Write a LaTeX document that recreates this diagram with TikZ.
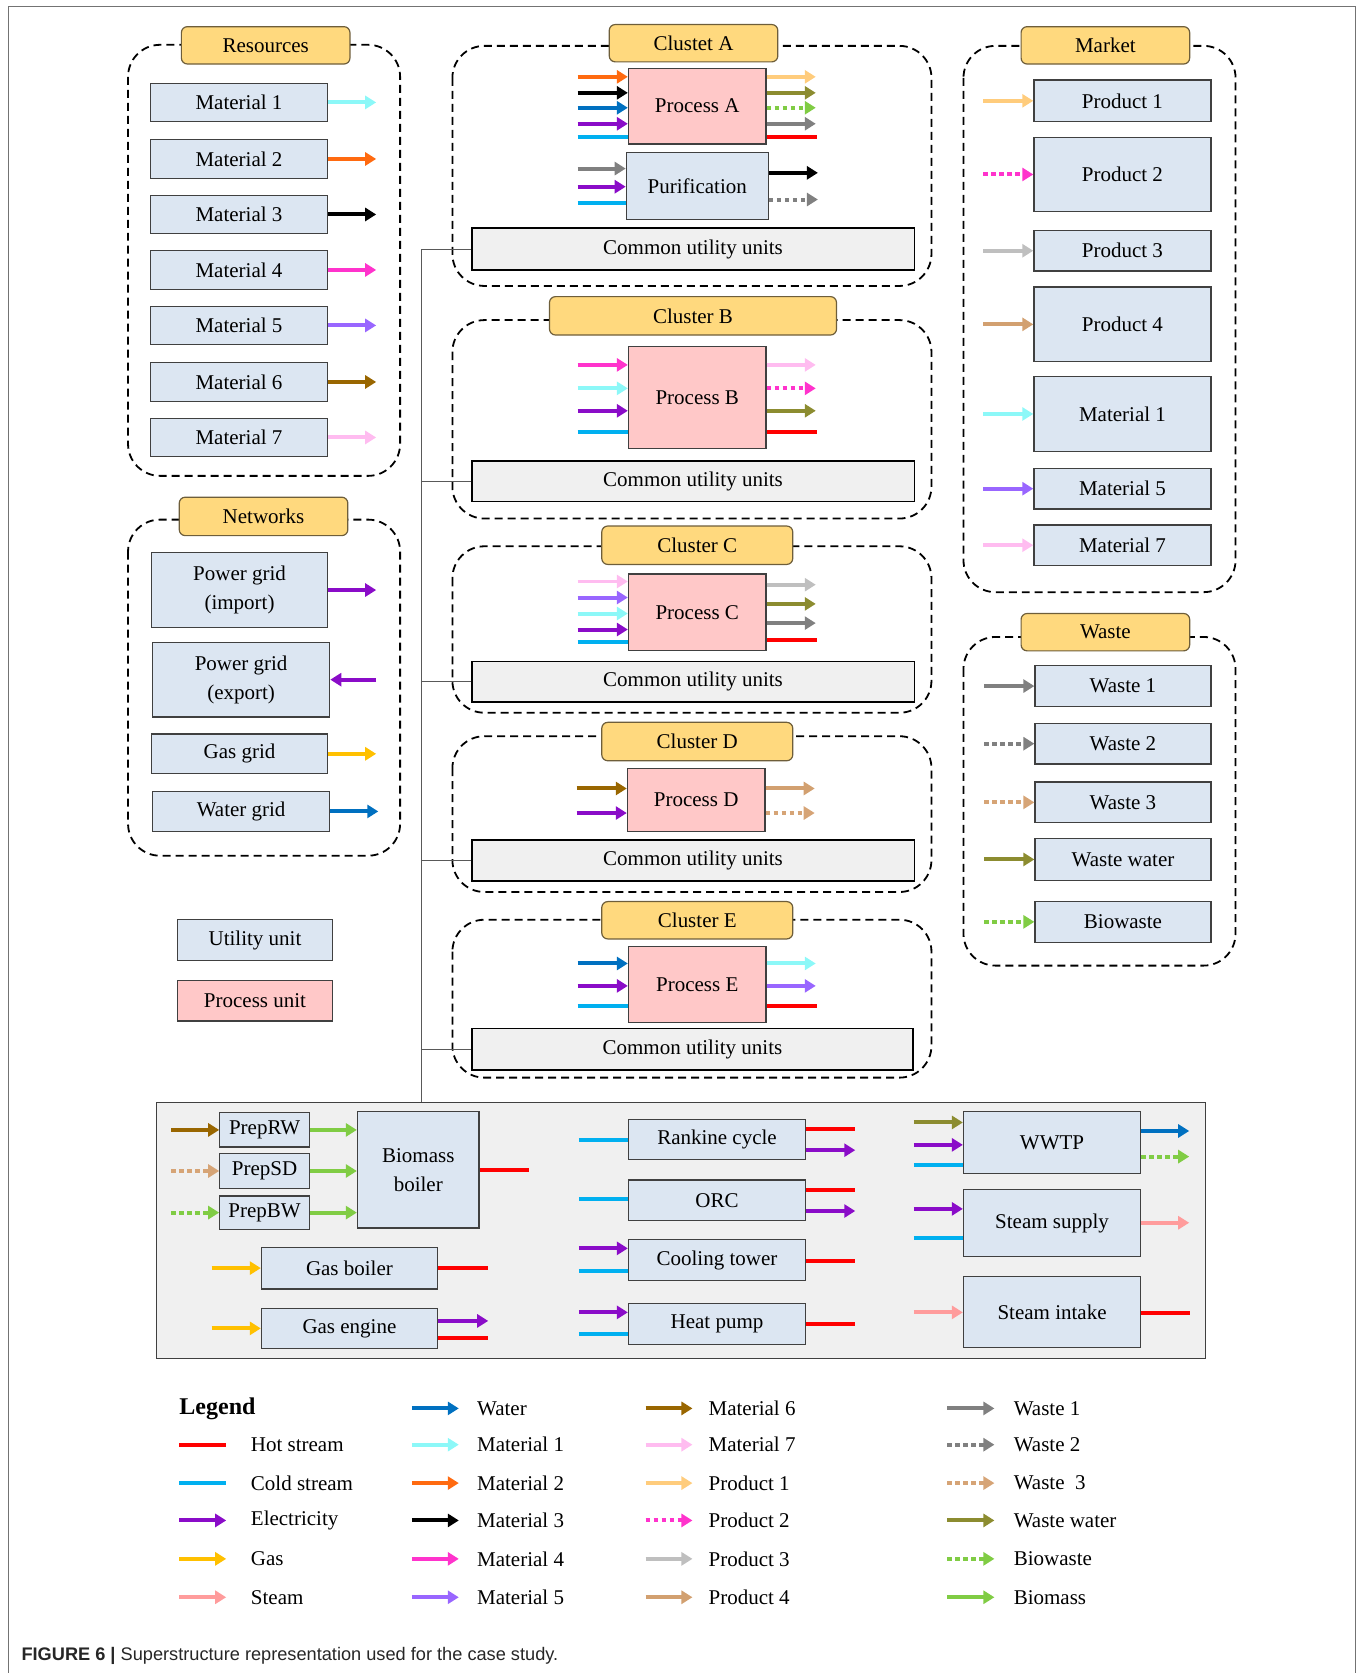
\documentclass[tikz,border=0pt]{standalone}
\usepackage{fontspec}
\setmainfont{Liberation Serif}
\setsansfont{Liberation Sans}
\usetikzlibrary{arrows.meta,calc}
\definecolor{cHot}{HTML}{FF0000}
\definecolor{cCold}{HTML}{00B0F0}
\definecolor{cElec}{HTML}{8A0CC8}
\definecolor{cGas}{HTML}{FFC000}
\definecolor{cSteam}{HTML}{FF9C9C}
\definecolor{cWater}{HTML}{0070C0}
\definecolor{cMa}{HTML}{8CF8F8}
\definecolor{cMb}{HTML}{FF6A10}
\definecolor{cMc}{HTML}{000000}
\definecolor{cMd}{HTML}{FF33CC}
\definecolor{cMe}{HTML}{9966FF}
\definecolor{cMf}{HTML}{996600}
\definecolor{cMg}{HTML}{FFBCF0}
\definecolor{cPa}{HTML}{FFCC7C}
\definecolor{cPb}{HTML}{FF33CC}
\definecolor{cPc}{HTML}{BFBFBF}
\definecolor{cPd}{HTML}{D2A070}
\definecolor{cWa}{HTML}{808080}
\definecolor{cWb}{HTML}{808080}
\definecolor{cWc}{HTML}{D6A476}
\definecolor{cWW}{HTML}{8C8C30}
\definecolor{cBW}{HTML}{80CC44}
\definecolor{cBM}{HTML}{80CC44}
\definecolor{cUnit}{HTML}{DCE6F2}
\definecolor{cProc}{HTML}{FFC8C8}
\definecolor{cTtl}{HTML}{FFD97E}
\definecolor{cTtlB}{HTML}{6E5E3A}
\definecolor{cGrey}{HTML}{F0F0F0}
\definecolor{cEdge}{HTML}{404040}
\newcommand\fs{\fontsize{21}{29}\selectfont}
\newcommand\bx[7]{\node[#1,minimum width={(#4-#2)*1.0673pt},minimum height={(#5-#3)*1.0673pt}] (#6) at ({(#2+#4)/2},{(#3+#5)/2}) {#7};}
\newcommand\fin[4]{\draw[#1] ($(#2.west|-0,#3)+(-#4,0)$) -- (#2.west|-0,#3);}
\newcommand\fout[4]{\draw[#1] (#2.east|-0,#3) -- ++(#4,0);}
\newcommand\lgi[6]{\node[anchor=west,font=\fs,inner sep=0pt] (#5) at (#3,#4) {#6};
  \draw[#1] (#2,#4) -- ++(44,0);}
\begin{document}
\begin{tikzpicture}[x=1.0673pt,y=-1.0673pt,
  fl/.style={line width=4pt,-{Triangle[length=11pt,width=13pt]}},
  ln/.style={line width=4pt},
  dt/.style={dash pattern=on 4.5pt off 3.5pt},
  grp/.style={draw=black,line width=1.8pt,dash pattern=on 8pt off 5pt,rounded corners=32pt},
  ttl/.style={draw=cTtlB,fill=cTtl,line width=1.2pt,rounded corners=6pt,inner sep=0pt,font=\fs},
  ubox/.style={draw=cEdge,fill=cUnit,line width=1.2pt,inner sep=0pt,font=\fs,align=center},
  pbox/.style={draw=cEdge,fill=cProc,line width=1.2pt,inner sep=0pt,font=\fs,align=center},
  cbox/.style={draw=black,fill=cGrey,line width=1.8pt,inner sep=0pt,font=\fs},
  panelst/.style={draw=cEdge,fill=cGrey,line width=1.2pt,inner sep=0pt},
  bus/.style={draw=black!65,line width=1pt}]
\useasboundingbox (0,0) rectangle (1277,1568);
\draw[black!55,line width=1pt] (8,1600) -- (8,6) -- (1270,6) -- (1270,1600);

% ---------------- Resources
\draw[grp] (120,42) rectangle (375,446);
\bx{ttl}{170}{25}{328}{60}{tRes}{Resources}
\bx{ubox}{141}{78}{307}{114}{r1}{Material 1}
\bx{ubox}{141}{131}{307}{167}{r2}{Material 2}
\bx{ubox}{141}{183}{307}{219}{r3}{Material 3}
\bx{ubox}{141}{235}{307}{271}{r4}{Material 4}
\bx{ubox}{141}{287}{307}{323}{r5}{Material 5}
\bx{ubox}{141}{340}{307}{376}{r6}{Material 6}
\bx{ubox}{141}{392}{307}{428}{r7}{Material 7}
\draw[fl,cMa] (r1.east) -- ++(45,0);
\draw[fl,cMb] (r2.east) -- ++(45,0);
\draw[fl,cMc] (r3.east) -- ++(45,0);
\draw[fl,cMd] (r4.east) -- ++(45,0);
\draw[fl,cMe] (r5.east) -- ++(45,0);
\draw[fl,cMf] (r6.east) -- ++(45,0);
\draw[fl,cMg] (r7.east) -- ++(45,0);

% ---------------- Networks
\draw[grp] (120,487) rectangle (375,802);
\bx{ttl}{168}{466}{326}{502}{tNet}{Networks}
\bx{ubox}{142}{518}{307}{588}{n1}{Power grid\\(import)}
\bx{ubox}{143}{602}{309}{672}{n2}{Power grid\\(export)}
\bx{ubox}{142}{688}{307}{725}{n3}{Gas grid}
\bx{ubox}{143}{742}{309}{779}{n4}{Water grid}
\draw[fl,cElec] (n1.east) -- ++(45,0);
\draw[fl,cElec] ($(n2.east)+(43,0)$) -- (n2.east);
\draw[fl,cGas] (n3.east) -- ++(45,0);
\draw[fl,cWater] (n4.east) -- ++(45,0);

% ---------------- key boxes
\bx{ubox}{166}{862}{312}{900}{kU}{Utility unit}
\bx{pbox}{166}{919}{312}{957}{kP}{Process unit}

% ---------------- Cluster A
\draw[grp] (424,43) rectangle (873,268);
\bx{ttl}{571}{23}{729}{58}{tA}{Clustet A}
\bx{pbox}{589}{64}{718}{135}{pA}{Process A}
\fin{fl,cMb}{pA}{72}{47}
\fin{fl,cMc}{pA}{87}{47}
\fin{fl,cWater}{pA}{101}{47}
\fin{fl,cElec}{pA}{116}{47}
\fin{ln,cCold}{pA}{128}{47}
\fout{fl,cPa}{pA}{72}{46}
\fout{fl,cWW}{pA}{87}{46}
\fout{fl,dt,cBW}{pA}{101}{46}
\fout{fl,cWa}{pA}{116}{46}
\fout{ln,cHot}{pA}{128}{47}
\bx{ubox}{587}{143}{720}{206}{pur}{Purification}
\fin{fl,cWa}{pur}{158}{45}
\fin{fl,cElec}{pur}{175}{45}
\fin{ln,cCold}{pur}{190}{45}
\fout{fl,cMc}{pur}{162}{46}
\fout{fl,dt,cWb}{pur}{187}{46}
\bx{cbox}{442}{214}{857}{253}{cuA}{Common utility units}

% ---------------- Cluster B
\draw[grp] (424,300) rectangle (873,486);
\bx{ttl}{515}{278}{784}{314}{tB}{Cluster B}
\bx{pbox}{589}{325}{718}{420}{pB}{Process B}
\fin{fl,cMd}{pB}{342}{47}
\fin{fl,cMa}{pB}{364}{47}
\fin{fl,cElec}{pB}{385}{47}
\fin{ln,cCold}{pB}{405}{47}
\fout{fl,cMg}{pB}{342}{46}
\fout{fl,dt,cPb}{pB}{364}{46}
\fout{fl,cWW}{pB}{385}{46}
\fout{ln,cHot}{pB}{405}{47}
\bx{cbox}{442}{432}{857}{470}{cuB}{Common utility units}

% ---------------- Cluster C
\draw[grp] (424,512) rectangle (873,668);
\bx{ttl}{564}{493}{743}{529}{tC}{Cluster C}
\bx{pbox}{589}{538}{718}{610}{pC}{Process C}
\fin{fl,cMg}{pC}{545}{47}
\fin{fl,cMe}{pC}{560}{47}
\fin{fl,cMa}{pC}{575}{47}
\fin{fl,cElec}{pC}{590}{47}
\fin{ln,cCold}{pC}{602}{47}
\fout{fl,cPc}{pC}{548}{46}
\fout{fl,cWW}{pC}{566}{46}
\fout{fl,cWa}{pC}{584}{46}
\fout{ln,cHot}{pC}{600}{47}
\bx{cbox}{442}{620}{857}{658}{cuC}{Common utility units}

% ---------------- Cluster D
\draw[grp] (424,690) rectangle (873,836);
\bx{ttl}{564}{677}{743}{713}{tD}{Cluster D}
\bx{pbox}{588}{720}{717}{779}{pD}{Process D}
\fin{fl,cMf}{pD}{739}{47}
\fin{fl,cElec}{pD}{762}{47}
\fout{fl,cPd}{pD}{739}{46}
\fout{fl,dt,cWc}{pD}{762}{46}
\bx{cbox}{442}{787}{857}{826}{cuD}{Common utility units}

% ---------------- Cluster E
\draw[grp] (424,862) rectangle (873,1010);
\bx{ttl}{564}{845}{743}{880}{tE}{Cluster E}
\bx{pbox}{589}{887}{718}{958}{pE}{Process E}
\fin{fl,cWater}{pE}{903}{47}
\fin{fl,cElec}{pE}{924}{47}
\fin{ln,cCold}{pE}{943}{47}
\fout{fl,cMa}{pE}{903}{46}
\fout{fl,cMe}{pE}{924}{46}
\fout{ln,cHot}{pE}{943}{47}
\bx{cbox}{442}{964}{856}{1003}{cuE}{Common utility units}

% ---------------- Market
\draw[grp] (903,43) rectangle (1158,555);
\bx{ttl}{957}{25}{1115}{60}{tMk}{Market}
\bx{ubox}{969}{75}{1135}{114}{k1}{Product 1}
\bx{ubox}{969}{129}{1135}{198}{k2}{Product 2}
\bx{ubox}{969}{216}{1135}{254}{k3}{Product 3}
\bx{ubox}{969}{269}{1135}{339}{k4}{Product 4}
\bx{ubox}{969}{353}{1135}{423}{k5}{Material 1}
\bx{ubox}{969}{439}{1135}{477}{k6}{Material 5}
\bx{ubox}{969}{492}{1135}{530}{k7}{Material 7}
\draw[fl,cPa] ($(k1.west)+(-47,0)$) -- (k1.west);
\draw[fl,dt,cPb] ($(k2.west)+(-47,0)$) -- (k2.west);
\draw[fl,cPc] ($(k3.west)+(-47,0)$) -- (k3.west);
\draw[fl,cPd] ($(k4.west)+(-47,0)$) -- (k4.west);
\draw[fl,cMa] ($(k5.west)+(-47,0)$) -- (k5.west);
\draw[fl,cMe] ($(k6.west)+(-47,0)$) -- (k6.west);
\draw[fl,cMg] ($(k7.west)+(-47,0)$) -- (k7.west);

% ---------------- Waste
\draw[grp] (903,597) rectangle (1158,905);
\bx{ttl}{957}{575}{1115}{610}{tWs}{Waste}
\bx{ubox}{970}{624}{1135}{662}{w1}{Waste 1}
\bx{ubox}{970}{678}{1135}{716}{w2}{Waste 2}
\bx{ubox}{970}{733}{1135}{771}{w3}{Waste 3}
\bx{ubox}{970}{786}{1135}{825}{w4}{Waste water}
\bx{ubox}{970}{845}{1135}{883}{w5}{Biowaste}
\draw[fl,cWa] ($(w1.west)+(-47,0)$) -- (w1.west);
\draw[fl,dt,cWb] ($(w2.west)+(-47,0)$) -- (w2.west);
\draw[fl,dt,cWc] ($(w3.west)+(-47,0)$) -- (w3.west);
\draw[fl,cWW] ($(w4.west)+(-47,0)$) -- (w4.west);
\draw[fl,dt,cBW] ($(w5.west)+(-47,0)$) -- (w5.west);

% ---------------- Utility panel
\bx{panelst}{147}{1033}{1130}{1273}{panel}{}
\draw[bus] (cuA.west) -- ++(-46,0) coordinate (b0) -- (b0 |- panel.north);
\draw[bus] (cuB.west) -- (cuB.west -| b0);
\draw[bus] (cuC.west) -- (cuC.west -| b0);
\draw[bus] (cuD.west) -- (cuD.west -| b0);
\draw[bus] (cuE.west) -- (cuE.west -| b0);

\bx{ubox}{206}{1043}{290}{1075}{prw}{PrepRW}
\bx{ubox}{206}{1081}{290}{1114}{psd}{PrepSD}
\bx{ubox}{206}{1121}{290}{1152}{pbw}{PrepBW}
\bx{ubox}{335}{1042}{449}{1151}{bb}{Biomass\\boiler}
\draw[fl,cMf] ($(prw.west)+(-45,0)$) -- (prw.west);
\draw[fl,dt,cWc] ($(psd.west)+(-45,0)$) -- (psd.west);
\draw[fl,dt,cBW] ($(pbw.west)+(-45,0)$) -- (pbw.west);
\draw[fl,cBM] (prw.east) -- (prw.east -| bb.west);
\draw[fl,cBM] (psd.east) -- (psd.east -| bb.west);
\draw[fl,cBM] (pbw.east) -- (pbw.east -| bb.west);
\draw[ln,cHot] (bb.east) -- ++(46,0);
\bx{ubox}{245}{1169}{410}{1208}{gb}{Gas boiler}
\bx{ubox}{245}{1226}{410}{1264}{ge}{Gas engine}
\draw[fl,cGas] ($(gb.west)+(-46,0)$) -- (gb.west);
\draw[fl,cGas] ($(ge.west)+(-46,0)$) -- (ge.west);
\draw[ln,cHot] (gb.east) -- ++(47,0);
\fout{fl,cElec}{ge}{1238}{47}
\fout{ln,cHot}{ge}{1254}{47}

\bx{ubox}{589}{1049}{755}{1087}{rk}{Rankine cycle}
\bx{ubox}{589}{1106}{755}{1144}{orc}{ORC}
\bx{ubox}{589}{1162}{755}{1200}{ct}{Cooling tower}
\bx{ubox}{589}{1222}{755}{1260}{hp}{Heat pump}
\fin{ln,cCold}{rk}{1068}{46}
\fout{ln,cHot}{rk}{1058}{46}
\fout{fl,cElec}{rk}{1078}{46}
\fin{ln,cCold}{orc}{1124}{46}
\fout{ln,cHot}{orc}{1115}{46}
\fout{fl,cElec}{orc}{1135}{46}
\fin{fl,cElec}{ct}{1170}{46}
\fin{ln,cCold}{ct}{1191}{46}
\fout{ln,cHot}{ct}{1182}{46}
\fin{fl,cElec}{hp}{1230}{46}
\fin{ln,cCold}{hp}{1250}{46}
\fout{ln,cHot}{hp}{1241}{46}

\bx{ubox}{903}{1042}{1069}{1100}{wt}{WWTP}
\bx{ubox}{903}{1115}{1069}{1178}{ss}{Steam supply}
\bx{ubox}{903}{1196}{1069}{1263}{si}{Steam intake}
\fin{fl,cWW}{wt}{1052}{46}
\fin{fl,cElec}{wt}{1073}{46}
\fin{ln,cCold}{wt}{1092}{46}
\fout{fl,cWater}{wt}{1060}{45}
\fout{fl,dt,cBW}{wt}{1084}{45}
\fin{fl,cElec}{ss}{1133}{46}
\fin{ln,cCold}{ss}{1160}{46}
\fout{fl,cSteam}{ss}{1146}{45}
\fin{fl,cSteam}{si}{1230}{46}
\fout{ln,cHot}{si}{1231}{46}

% ---------------- Legend
\node[anchor=west,inner sep=0pt,font=\bfseries\fontsize{24}{28}\selectfont] (lgT) at (168,1320) {Legend};
\lgi{ln,cHot}{168}{235}{1354}{lA}{Hot stream}
\lgi{ln,cCold}{168}{235}{1390}{lB}{Cold stream}
\lgi{fl,cElec}{168}{235}{1425}{lC}{Electricity}
\lgi{fl,cGas}{168}{235}{1461}{lD}{Gas}
\lgi{fl,cSteam}{168}{235}{1497}{lE}{Steam}
\lgi{fl,cWater}{386}{447}{1320}{lF}{Water}
\lgi{fl,cMa}{386}{447}{1354}{lG}{Material 1}
\lgi{fl,cMb}{386}{447}{1390}{lH}{Material 2}
\lgi{fl,cMc}{386}{447}{1425}{lI}{Material 3}
\lgi{fl,cMd}{386}{447}{1461}{lJ}{Material 4}
\lgi{fl,cMe}{386}{447}{1497}{lK}{Material 5}
\lgi{fl,cMf}{605}{664}{1320}{lL}{Material 6}
\lgi{fl,cMg}{605}{664}{1354}{lM}{Material 7}
\lgi{fl,cPa}{605}{664}{1390}{lN}{Product 1}
\lgi{fl,dt,cPb}{605}{664}{1425}{lO}{Product 2}
\lgi{fl,cPc}{605}{664}{1461}{lP}{Product 3}
\lgi{fl,cPd}{605}{664}{1497}{lQ}{Product 4}
\lgi{fl,cWa}{888}{950}{1320}{lR}{Waste 1}
\lgi{fl,dt,cWb}{888}{950}{1354}{lS}{Waste 2}
\lgi{fl,dt,cWc}{888}{950}{1390}{lT}{Waste~~3}
\lgi{fl,cWW}{888}{950}{1425}{lU}{Waste water}
\lgi{fl,dt,cBW}{888}{950}{1461}{lV}{Biowaste}
\lgi{fl,cBM}{888}{950}{1497}{lW}{Biomass}

% ---------------- Caption
\node[anchor=base west,inner sep=0pt,font=\sffamily\fontsize{18.2}{21}\selectfont,text=black!85] (cap) at (20,1556) {\textbf{FIGURE 6 |} Superstructure representation used for the case study.};
\end{tikzpicture}
\end{document}
